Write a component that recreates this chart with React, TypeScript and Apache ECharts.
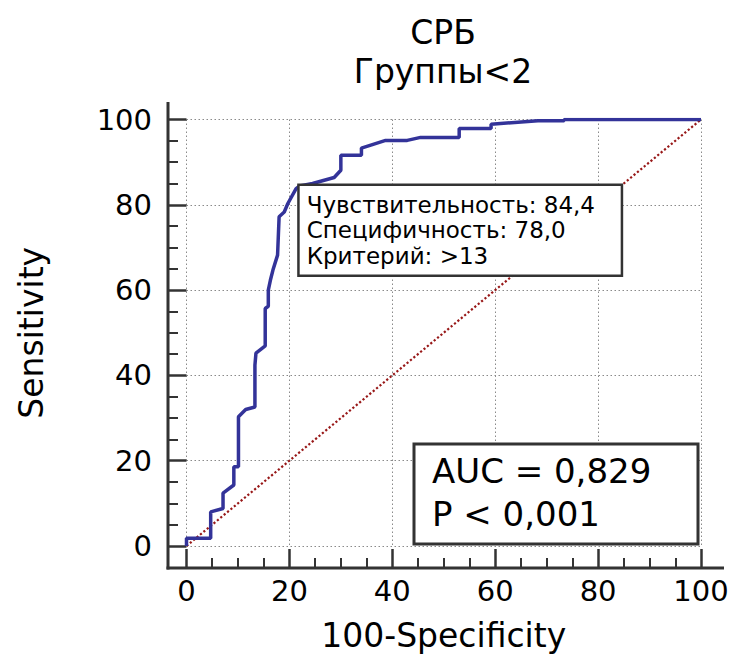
import React, { useEffect, useRef } from "react";
import * as echarts from "echarts";

// ROC curve points
const fpr = [0, 0, 4.7, 4.7, 7.1, 7.1, 9.2, 9.2, 10.1, 10.1, 11.5, 13.3, 13.3, 13.5, 15.3, 15.3, 15.9, 15.9, 16.3, 16.8, 17.7, 18.0, 19.0, 19.7, 21.3, 22.0, 24.5, 28.7, 30.0, 30.0, 34.0, 34.0, 38.7, 42.9, 45.5, 53.0, 53.0, 59.2, 59.2, 68.3, 73.4, 73.4, 100];
const sens = [0, 1.8, 1.8, 8.0, 8.8, 12.4, 14.3, 18.6, 18.6, 30.3, 32.0, 32.6, 42.4, 45.2, 46.9, 55.7, 56.2, 60.0, 62.3, 64.7, 68.2, 77.2, 78.3, 80.3, 83.8, 84.4, 85.0, 86.4, 88.1, 91.6, 91.6, 93.3, 95.1, 95.1, 95.8, 95.8, 97.9, 97.9, 98.9, 99.7, 99.7, 100, 100];
const diagX = [0, 100];
const diagY = [0, 100];

const titleLines = ["СРБ", "Группы<2"];
const cutoffSens = 84.4;
const cutoffSpec = 78.0;
const cutoffCrit = ">13";
const aucText = "AUC = 0,829";
const pText = "P < 0,001";
const xName = "100-Specificity";
const yName = "Sensitivity";

const FONT = "'DejaVu Sans', 'Liberation Sans', sans-serif";
const AXIS_COLOR = "#333333";
const fmt = (v: number) => v.toFixed(1).replace(".", ",");

export default function App() {
  const ref = useRef<HTMLDivElement>(null);
  useEffect(() => {
    if (!ref.current) return;
    const chart = echarts.init(ref.current, undefined, { renderer: "svg" });
    const rocData = fpr.map((x, i) => [x, sens[i]]);
    const diagData = diagX.map((x, i) => [x, diagY[i]]);
    const annot = [
      `Чувствительность: ${fmt(cutoffSens)}`,
      `Специфичность: ${fmt(cutoffSpec)}`,
      `Критерий: ${cutoffCrit}`,
    ].join("\n");

    const axisCommon = {
      type: "value",
      min: 0,
      max: 100,
      interval: 20,
      axisLine: { show: false, onZero: false },
      minorTick: { show: true, splitNumber: 4, length: 10, lineStyle: { color: AXIS_COLOR, width: 2 } },
      splitLine: { show: true, lineStyle: { color: "#8a8a8a", type: [1.5, 2.5], width: 1 } },
      nameLocation: "middle",
      nameTextStyle: { color: "#000", fontSize: 33, fontFamily: FONT },
    };

    chart.setOption({
      animation: false,
      backgroundColor: "#ffffff",
      grid: { left: 186.5, top: 119.5, width: 514.5, height: 426.5, containLabel: false, outerBoundsMode: "none" },
      xAxis: {
        ...axisCommon,
        offset: 22,
        axisTick: { show: true, inside: true, length: 19, lineStyle: { color: AXIS_COLOR, width: 2.5 } },
        axisLabel: { color: "#000", fontSize: 29, fontFamily: FONT, margin: 8 },
        name: xName,
        nameGap: 51,
      },
      yAxis: {
        ...axisCommon,
        offset: 18.5,
        axisTick: { show: true, inside: true, length: 18.5, lineStyle: { color: AXIS_COLOR, width: 2.5 } },
        axisLabel: { color: "#000", fontSize: 29, fontFamily: FONT, margin: 16 },
        name: yName,
        nameGap: 120,
      },
      series: [
        {
          type: "line",
          data: diagData,
          symbol: "none",
          silent: true,
          z: 2,
          lineStyle: { color: "#981818", width: 2.2, type: [2.2, 2.2] },
        },
        {
          type: "line",
          data: rocData,
          symbol: "none",
          silent: true,
          z: 3,
          lineStyle: { color: "#333399", width: 3.5 },
          markPoint: {
            symbol: "circle",
            symbolSize: 0,
            silent: true,
            data: [{ coord: [100 - cutoffSpec, cutoffSens] }],
            label: {
              show: true,
              position: [0, 0],
              align: "left",
              verticalAlign: "top",
              formatter: annot,
              color: "#000",
              fontSize: 23,
              lineHeight: 25.5,
              fontFamily: FONT,
              backgroundColor: "#ffffff",
              borderColor: "#333333",
              borderWidth: 2.5,
              padding: [6, 8, 6, 7],
              width: 306,
            },
          },
        },
      ],
      graphic: [
        { type: "line", z: 10, shape: { x1: 168, y1: 102, x2: 168, y2: 569.5 }, style: { stroke: AXIS_COLOR, lineWidth: 3 } },
        { type: "line", z: 10, shape: { x1: 166.5, y1: 568, x2: 724, y2: 568 }, style: { stroke: AXIS_COLOR, lineWidth: 3 } },
        { type: "text", x: 443, y: 32, style: { text: titleLines[0], fill: "#000", font: `33px ${FONT}`, textAlign: "center", textVerticalAlign: "middle" } },
        { type: "text", x: 443, y: 71, style: { text: titleLines[1], fill: "#000", font: `33px ${FONT}`, textAlign: "center", textVerticalAlign: "middle" } },
        { type: "rect", z: 10, shape: { x: 414, y: 444, width: 284, height: 100 }, style: { fill: "#ffffff", stroke: AXIS_COLOR, lineWidth: 3 } },
        { type: "text", z: 11, x: 432, y: 471, style: { text: aucText, fill: "#000", font: `34px ${FONT}`, textAlign: "left", textVerticalAlign: "middle" } },
        { type: "text", z: 11, x: 432, y: 514, style: { text: pText, fill: "#000", font: `34px ${FONT}`, textAlign: "left", textVerticalAlign: "middle" } },
      ],
    });
    return () => chart.dispose();
  }, []);
  return <div ref={ref} style={{ position: "absolute", left: 0, top: 0, width: 736, height: 655 }} />;
}
